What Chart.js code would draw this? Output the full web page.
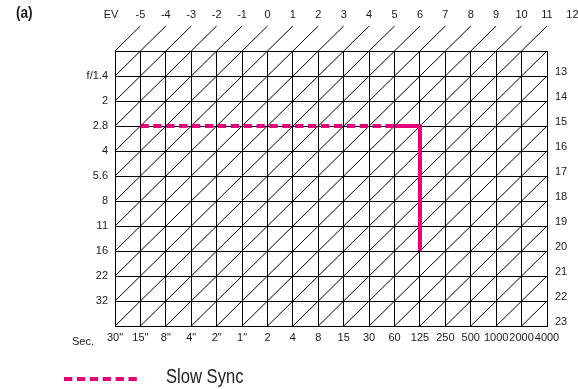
<!DOCTYPE html>
<html>
<head>
<meta charset="utf-8">
<script src="https://cdn.jsdelivr.net/npm/chart.js@4/dist/chart.umd.min.js"></script>
<style>
  html, body { margin: 0; padding: 0; background: #fff; }
  #wrap { width: 578px; height: 389px; }
</style>
</head>
<body>
<div id="wrap"><canvas id="c" width="578" height="389"></canvas></div>
<script>
// ---- data ----
const shutterLabels = ['30"', '15"', '8"', '4"', '2"', '1"', '2', '4', '8', '15', '30', '60', '125', '250', '500', '1000', '2000', '4000'];
const apertureLabels = ['f/1.4', '2', '2.8', '4', '5.6', '8', '11', '16', '22', '32'];
const topEV = [-5, -4, -3, -2, -1, 0, 1, 2, 3, 4, 5, 6, 7, 8, 9, 10, 11, 12];
const rightEV = [13, 14, 15, 16, 17, 18, 19, 20, 21, 22, 23];
const slowSyncDashed = [{ shutter: '15"', f: '2.8' }, { shutter: '60', f: '2.8' }];
const slowSyncSolid = [{ shutter: '60', f: '2.8' }, { shutter: '125', f: '2.8' }, { shutter: '125', f: '16' }];
const seriesName = 'Slow Sync';

// ---- styling ----
const PINK = '#e4007c';
const FONT = "'Liberation Sans', Arial, sans-serif";
Chart.defaults.color = '#1a1a1a';
Chart.defaults.font.family = FONT;
Chart.defaults.font.size = 11;

const nCols = shutterLabels.length - 1;      // 17
const nRows = apertureLabels.length + 1;     // 11

const toXY = p => ({ x: shutterLabels.indexOf(p.shutter), y: apertureLabels.indexOf(p.f) + 1 });

// EV diagonals (structural grid of the chart)
const diagonals = topEV.concat(rightEV).map(ev => {
  const s = ev - topEV[0];
  const cMin = Math.max(0, s - nRows);
  const pts = [{ x: cMin, y: s - cMin }];
  if (s <= nCols) { pts.push({ x: s, y: 0 }); pts.push({ x: s + 1, y: -1 }); }
  else pts.push({ x: nCols, y: s - nCols });
  return {
    label: 'EV ' + ev, data: pts, showLine: true, borderColor: '#000', borderWidth: 1,
    pointRadius: 0, clip: false, order: 2
  };
});

function narrowText(ctx, text, x, y, font, sx) {
  ctx.save();
  ctx.font = font;
  ctx.translate(x, y);
  ctx.scale(sx, 1);
  ctx.fillText(text, 0, 0);
  ctx.restore();
}

const extras = {
  id: 'extras',
  afterDraw(chart) {
    const ctx = chart.ctx;
    ctx.save();
    ctx.fillStyle = '#1a1a1a';
    ctx.textBaseline = 'middle';
    ctx.textAlign = 'left';
    narrowText(ctx, '(a)', 16, 14, 'bold 16px ' + FONT, 0.85);
    ctx.font = '11px ' + FONT;
    ctx.textAlign = 'center';
    ctx.fillText('EV', 111, 15);
    ctx.fillText('Sec.', 83, 342);
    // legend
    ctx.strokeStyle = PINK;
    ctx.lineWidth = 4;
    ctx.setLineDash([8.3, 4.6]);
    ctx.beginPath();
    ctx.moveTo(64, 379);
    ctx.lineTo(139, 379);
    ctx.stroke();
    ctx.setLineDash([]);
    ctx.textAlign = 'left';
    ctx.fillStyle = '#222';
    narrowText(ctx, seriesName, 166, 377, '20px ' + FONT, 0.83);
    ctx.restore();
  }
};

const noSidePad = s => { s.paddingLeft = 0; s.paddingRight = 0; };
const noVertPad = s => { s.paddingTop = 0; s.paddingBottom = 0; };

new Chart(document.getElementById('c'), {
  type: 'scatter',
  data: {
    datasets: [
      {
        label: seriesName, data: slowSyncDashed.map(toXY), showLine: true, borderColor: PINK,
        borderWidth: 4, borderDash: [8.3, 4.6], pointRadius: 0, order: 0
      },
      {
        label: seriesName + ' (end)', data: slowSyncSolid.map(toXY), showLine: true, borderColor: PINK,
        borderWidth: 4, pointRadius: 0, order: 0, borderJoinStyle: 'miter'
      },
      ...diagonals
    ]
  },
  options: {
    responsive: false,
    animation: false,
    layout: { padding: 0 },
    plugins: { legend: { display: false }, tooltip: { enabled: false } },
    scales: {
      x: {
        type: 'linear', position: 'bottom', min: 0, max: nCols,
        afterFit: s => { s.height = 63; noSidePad(s); },
        grid: { color: '#000', lineWidth: 1, drawTicks: false },
        border: { color: '#000', width: 1 },
        ticks: {
          stepSize: 1, autoSkip: false, maxRotation: 0, padding: 5,
          callback: v => shutterLabels[v] ?? ''
        }
      },
      x2: {
        type: 'linear', position: 'top', min: topEV[0] - 1, max: topEV[0] - 1 + nCols,
        afterFit: s => { s.height = 51; noSidePad(s); },
        afterBuildTicks: s => { s.ticks = topEV.map(v => ({ value: v })); },
        grid: { display: false, drawTicks: false },
        border: { display: false },
        ticks: { autoSkip: false, maxRotation: 0, padding: 29, callback: v => String(v) }
      },
      y: {
        type: 'linear', position: 'left', min: 0, max: nRows, reverse: true,
        afterFit: s => { s.width = 115; noVertPad(s); },
        grid: { color: '#000', lineWidth: 1, drawTicks: false },
        border: { color: '#000', width: 1 },
        ticks: { stepSize: 1, autoSkip: false, padding: 7, callback: v => apertureLabels[v - 1] ?? '' }
      },
      y2: {
        type: 'linear', position: 'right', min: 0, max: nRows, reverse: true,
        afterFit: s => { s.width = 31; noVertPad(s); },
        grid: { display: false, drawTicks: false },
        border: { display: false },
        ticks: { stepSize: 1, autoSkip: false, padding: 8, labelOffset: -4, callback: v => (v >= 1 ? String(rightEV[v - 1]) : '') }
      }
    }
  },
  plugins: [extras]
});
</script>
</body>
</html>
